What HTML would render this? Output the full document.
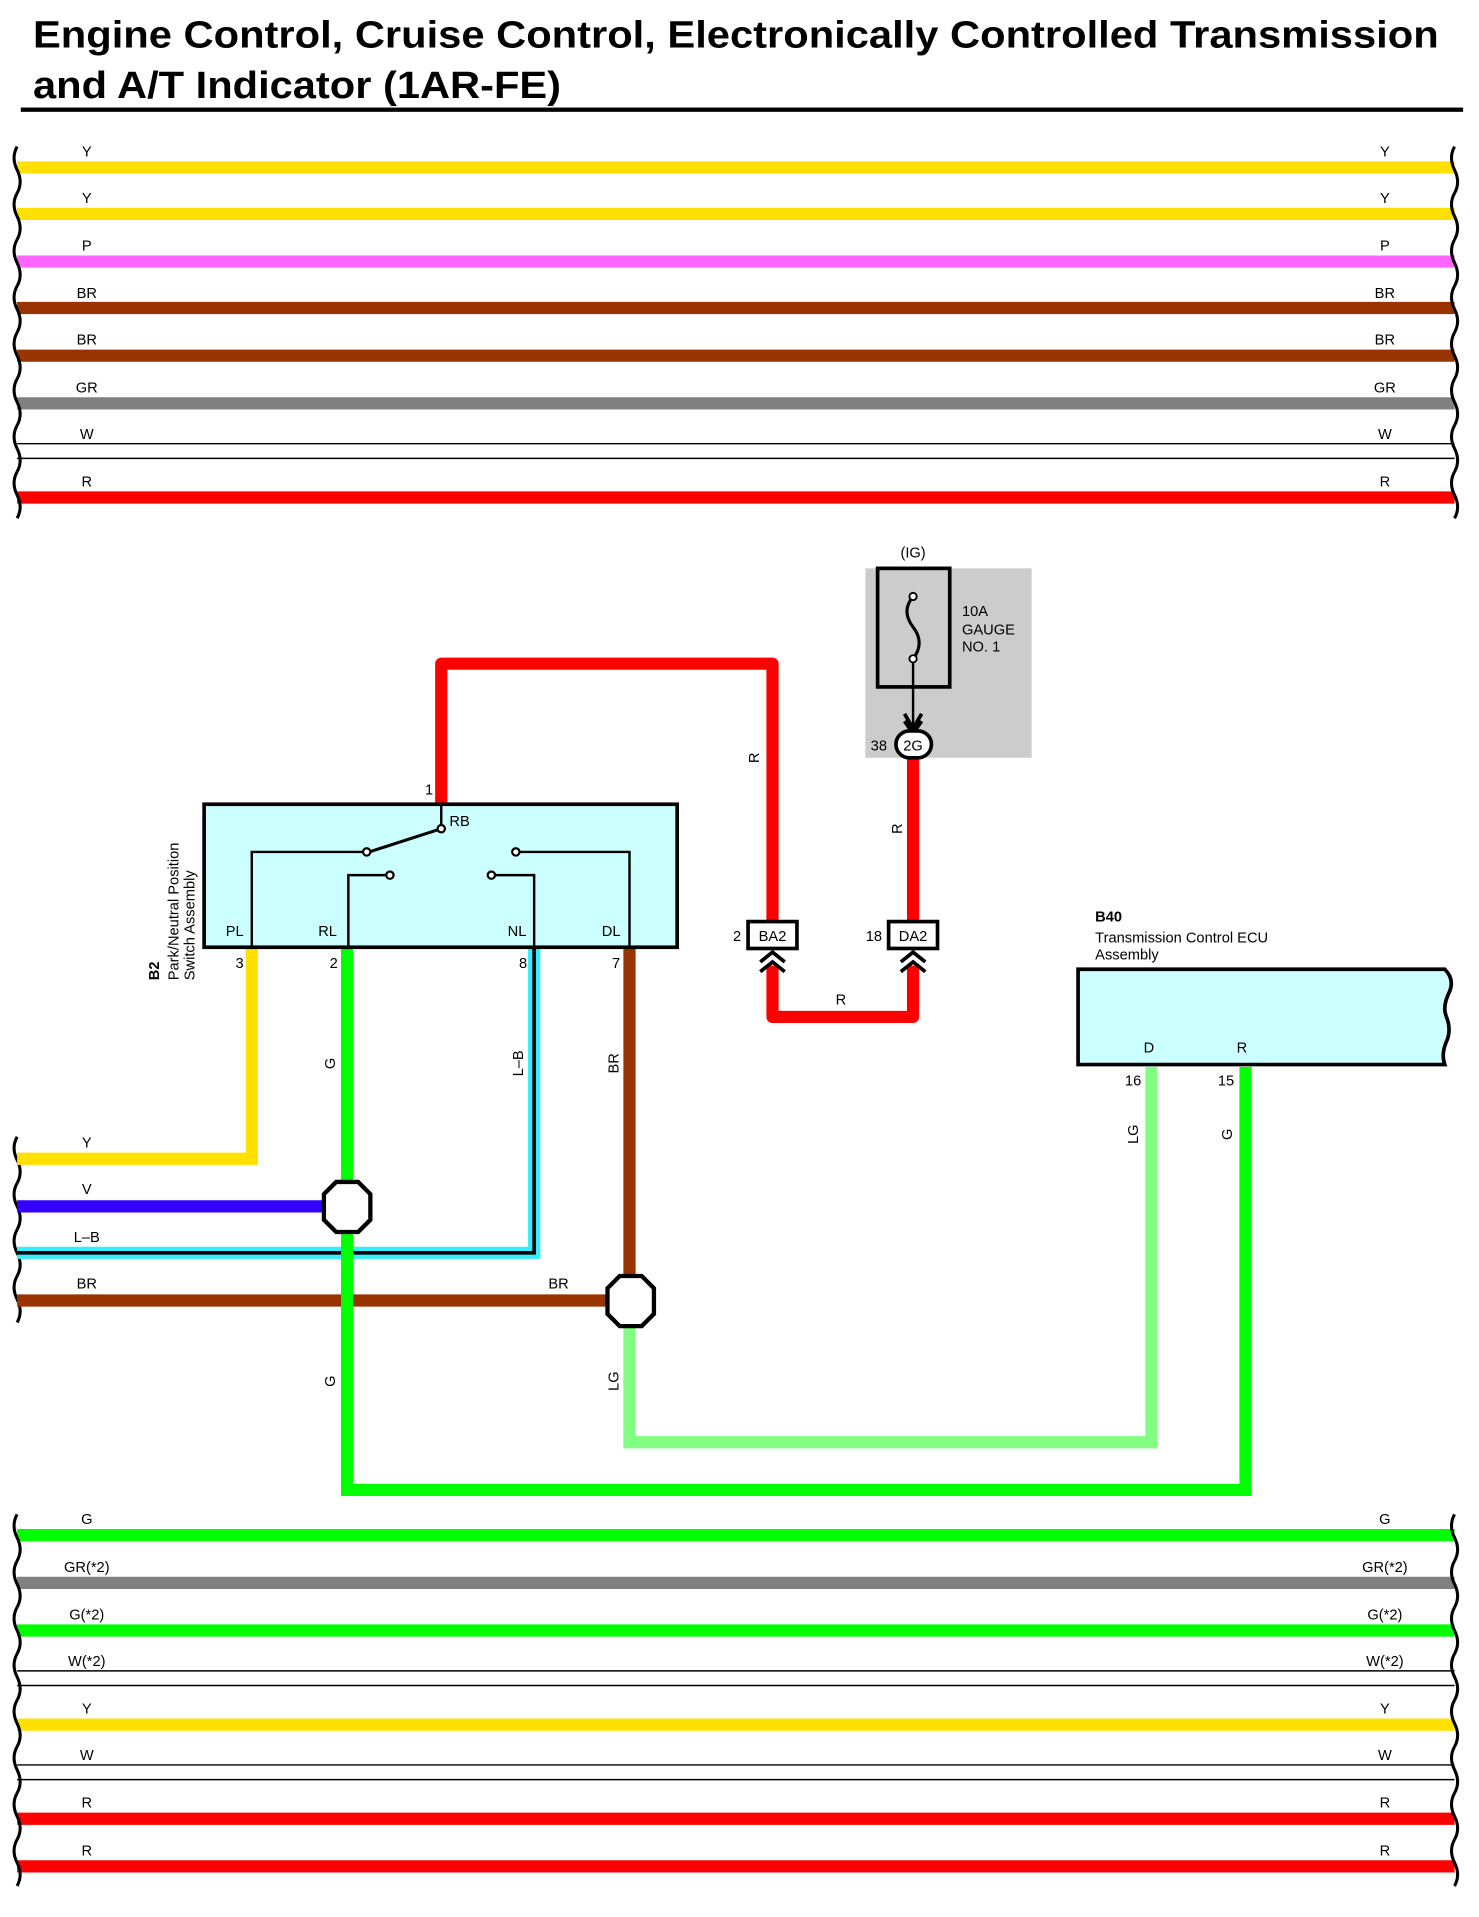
<!DOCTYPE html>
<html><head><meta charset="utf-8"><style>
html,body{margin:0;padding:0;background:#fff}
svg{display:block}
text{font-family:"Liberation Sans",sans-serif;fill:#000}
</style></head><body>
<svg width="1479" height="1917" viewBox="0 0 1210 1568.4" preserveAspectRatio="none" xmlns="http://www.w3.org/2000/svg">
<defs>
<path id="wv" d="M0,0 q-5,9 0,19 q5,10 0,19" fill="none" stroke="#000" stroke-width="2.5"/>
</defs>
<text x="27" y="39" font-size="31" font-weight="bold" textLength="1150" lengthAdjust="spacingAndGlyphs">Engine Control, Cruise Control, Electronically Controlled Transmission</text>
<text x="27" y="80" font-size="31" font-weight="bold" textLength="432" lengthAdjust="spacingAndGlyphs">and A/T Indicator (1AR-FE)</text>
<rect x="17" y="88" width="1180" height="3.5" fill="#000"/>

<g font-size="12" text-anchor="middle">
<g stroke-width="10" fill="none">
<line x1="14" y1="137" x2="1190" y2="137" stroke="#ffe000"/>
<line x1="14" y1="175" x2="1190" y2="175" stroke="#ffe000"/>
<line x1="14" y1="214" x2="1190" y2="214" stroke="#ff66ff"/>
<line x1="14" y1="252" x2="1190" y2="252" stroke="#993300"/>
<line x1="14" y1="291" x2="1190" y2="291" stroke="#993300"/>
<line x1="14" y1="330" x2="1190" y2="330" stroke="#808080"/>
<line x1="14" y1="407" x2="1190" y2="407" stroke="#ff0000"/>
</g>
<line x1="14" y1="363" x2="1190" y2="363" stroke="#000" stroke-width="1.2"/>
<line x1="14" y1="375" x2="1190" y2="375" stroke="#000" stroke-width="1.2"/>
<text x="71" y="128">Y</text><text x="1133" y="128">Y</text>
<text x="71" y="166">Y</text><text x="1133" y="166">Y</text>
<text x="71" y="205">P</text><text x="1133" y="205">P</text>
<text x="71" y="244">BR</text><text x="1133" y="244">BR</text>
<text x="71" y="282">BR</text><text x="1133" y="282">BR</text>
<text x="71" y="321">GR</text><text x="1133" y="321">GR</text>
<text x="71" y="359">W</text><text x="1133" y="359">W</text>
<text x="71" y="398">R</text><text x="1133" y="398">R</text>
<g>
<use href="#wv" x="14" y="120"/><use href="#wv" x="14" y="158"/><use href="#wv" x="14" y="196"/><use href="#wv" x="14" y="234"/><use href="#wv" x="14" y="272"/><use href="#wv" x="14" y="310"/><use href="#wv" x="14" y="348"/><use href="#wv" x="14" y="386"/>
<use href="#wv" x="1190" y="120"/><use href="#wv" x="1190" y="158"/><use href="#wv" x="1190" y="196"/><use href="#wv" x="1190" y="234"/><use href="#wv" x="1190" y="272"/><use href="#wv" x="1190" y="310"/><use href="#wv" x="1190" y="348"/><use href="#wv" x="1190" y="386"/>
</g>

<g stroke-width="10" fill="none">
<line x1="14" y1="1256" x2="1190" y2="1256" stroke="#00ff00"/>
<line x1="14" y1="1295" x2="1190" y2="1295" stroke="#808080"/>
<line x1="14" y1="1334" x2="1190" y2="1334" stroke="#00ff00"/>
<line x1="14" y1="1411" x2="1190" y2="1411" stroke="#ffe000"/>
<line x1="14" y1="1488" x2="1190" y2="1488" stroke="#ff0000"/>
<line x1="14" y1="1527" x2="1190" y2="1527" stroke="#ff0000"/>
</g>
<line x1="14" y1="1367" x2="1190" y2="1367" stroke="#000" stroke-width="1.2"/>
<line x1="14" y1="1379" x2="1190" y2="1379" stroke="#000" stroke-width="1.2"/>
<line x1="14" y1="1444" x2="1190" y2="1444" stroke="#000" stroke-width="1.2"/>
<line x1="14" y1="1456" x2="1190" y2="1456" stroke="#000" stroke-width="1.2"/>
<text x="71" y="1247">G</text><text x="1133" y="1247">G</text>
<text x="71" y="1286">GR(*2)</text><text x="1133" y="1286">GR(*2)</text>
<text x="71" y="1325">G(*2)</text><text x="1133" y="1325">G(*2)</text>
<text x="71" y="1363">W(*2)</text><text x="1133" y="1363">W(*2)</text>
<text x="71" y="1402">Y</text><text x="1133" y="1402">Y</text>
<text x="71" y="1440">W</text><text x="1133" y="1440">W</text>
<text x="71" y="1479">R</text><text x="1133" y="1479">R</text>
<text x="71" y="1518">R</text><text x="1133" y="1518">R</text>
<g>
<use href="#wv" x="14" y="1239"/><use href="#wv" x="14" y="1277"/><use href="#wv" x="14" y="1315"/><use href="#wv" x="14" y="1353"/><use href="#wv" x="14" y="1391"/><use href="#wv" x="14" y="1429"/><use href="#wv" x="14" y="1467"/><use href="#wv" x="14" y="1505"/>
<use href="#wv" x="1190" y="1239"/><use href="#wv" x="1190" y="1277"/><use href="#wv" x="1190" y="1315"/><use href="#wv" x="1190" y="1353"/><use href="#wv" x="1190" y="1391"/><use href="#wv" x="1190" y="1429"/><use href="#wv" x="1190" y="1467"/><use href="#wv" x="1190" y="1505"/>
</g>

<use href="#wv" x="14" y="930"/><use href="#wv" x="14" y="968"/><use href="#wv" x="14" y="1006"/><use href="#wv" x="14" y="1044"/>

<rect x="708" y="465" width="136" height="155" fill="#cccccc"/>
<rect x="718" y="465" width="59" height="97" fill="none" stroke="#000" stroke-width="3"/>
<text x="747" y="456">(IG)</text>
<path d="M747,488 q-10,12 0,25 q10,13 0,26" fill="none" stroke="#000" stroke-width="2.5"/>
<circle cx="747" cy="488" r="3" fill="#fff" stroke="#000" stroke-width="1.5"/>
<circle cx="747" cy="539" r="3" fill="#fff" stroke="#000" stroke-width="1.5"/>
<line x1="747" y1="542" x2="747" y2="596" stroke="#000" stroke-width="2"/>
<path d="M740,584 l7,12 l7,-12 M740,590 l7,10 l7,-10" fill="none" stroke="#000" stroke-width="3"/>
<text x="787" y="504" text-anchor="start">10A</text>
<text x="787" y="519" text-anchor="start">GAUGE</text>
<text x="787" y="533" text-anchor="start">NO. 1</text>

<g stroke="#ff0000" stroke-width="10" fill="none" stroke-linejoin="round">
<path d="M361,658 V543 H632 V755"/>
<path d="M747,620 V755"/>
<path d="M632,790 V832 H747 V790"/>
</g>
<rect x="733" y="598" width="29" height="22" rx="11" fill="#fff" stroke="#000" stroke-width="3"/>
<text x="747" y="614">2G</text>
<text x="719" y="614">38</text>
<rect x="612" y="754" width="40" height="22" fill="#fff" stroke="#000" stroke-width="3"/>
<text x="632" y="770">BA2</text>
<text x="603" y="770">2</text>
<rect x="727" y="754" width="40" height="22" fill="#fff" stroke="#000" stroke-width="3"/>
<text x="747" y="770">DA2</text>
<text x="715" y="770">18</text>
<path d="M622,787 l10,-8 l10,8 M622,795 l10,-8 l10,8 M737,787 l10,-8 l10,8 M737,795 l10,-8 l10,8" fill="none" stroke="#000" stroke-width="3"/>
<text x="688" y="822">R</text>
<text transform="translate(621,620) rotate(-90)">R</text>
<text transform="translate(738,678) rotate(-90)">R</text>

<g fill="none" stroke-width="10">
<path d="M206,775 V948 H14" stroke="#ffe000"/>
<path d="M14,987 H270" stroke="#3300ff"/>
<path d="M437,775 V1025 H14" stroke="#33eeff"/>
<path d="M437,775 V1025 H14" stroke="#000" stroke-width="3"/>
<path d="M14,1064 H500" stroke="#993300"/>
<path d="M515,775 V1045" stroke="#993300"/>
<path d="M515,1085 V1180 H942 V873" stroke="#80ff80"/>
<path d="M284,775 V1219 H1019 V873" stroke="#00ff00"/>
</g>
<path d="M275,967 h18 l10,10 v21 l-10,10 h-18 l-10,-10 v-21 z" fill="#fff" stroke="#000" stroke-width="3.5"/>
<path d="M507,1044 h18 l10,10 v21 l-10,10 h-18 l-10,-10 v-21 z" fill="#fff" stroke="#000" stroke-width="3.5"/>
<text x="71" y="939">Y</text>
<text x="71" y="977">V</text>
<text x="71" y="1016">L–B</text>
<text x="71" y="1054">BR</text>
<text x="457" y="1054">BR</text>
<text transform="translate(274,870) rotate(-90)">G</text>
<text transform="translate(428,870) rotate(-90)">L–B</text>
<text transform="translate(506,870) rotate(-90)">BR</text>
<text transform="translate(274,1130) rotate(-90)">G</text>
<text transform="translate(506,1130) rotate(-90)">LG</text>
<text transform="translate(931,928) rotate(-90)">LG</text>
<text transform="translate(1008,928) rotate(-90)">G</text>

<rect x="167" y="658" width="387" height="117" fill="#ccffff" stroke="#000" stroke-width="3"/>
<g fill="none" stroke="#000" stroke-width="2">
<path d="M361,658 V678"/>
<path d="M361,678 L302,697" stroke-width="2.5"/>
<path d="M297,697 H206 V775"/>
<path d="M316,716 H285 V775"/>
<path d="M405,716 H437 V775"/>
<path d="M425,697 H515 V775"/>
</g>
<g fill="#fff" stroke="#000" stroke-width="1.8">
<circle cx="361" cy="678" r="3"/><circle cx="300" cy="697" r="3"/><circle cx="319" cy="716" r="3"/><circle cx="402" cy="716" r="3"/><circle cx="422" cy="697" r="3"/>
</g>
<text x="376" y="676">RB</text>
<text x="351" y="650">1</text>
<text x="192" y="766">PL</text>
<text x="268" y="766">RL</text>
<text x="423" y="766">NL</text>
<text x="500" y="766">DL</text>
<text x="196" y="792">3</text>
<text x="273" y="792">2</text>
<text x="428" y="792">8</text>
<text x="504" y="792">7</text>
<g text-anchor="start">
<text transform="translate(130,802) rotate(-90)" font-weight="bold">B2</text>
<text transform="translate(146,802) rotate(-90)">Park/Neutral Position</text>
<text transform="translate(159,802) rotate(-90)">Switch Assembly</text>
</g>

<path d="M882,793 H1182 q8,8 4,18 q-6,12 -3,20 q5,12 0,22 q-4,10 -1,18 H882 Z" fill="#ccffff" stroke="#000" stroke-width="3"/>
<g text-anchor="start">
<text x="896" y="754" font-weight="bold">B40</text>
<text x="896" y="771">Transmission Control ECU</text>
<text x="896" y="785">Assembly</text>
</g>
<text x="940" y="861">D</text>
<text x="1016" y="861">R</text>
<text x="927" y="888">16</text>
<text x="1003" y="888">15</text>
</g>
</svg>
</body></html>
